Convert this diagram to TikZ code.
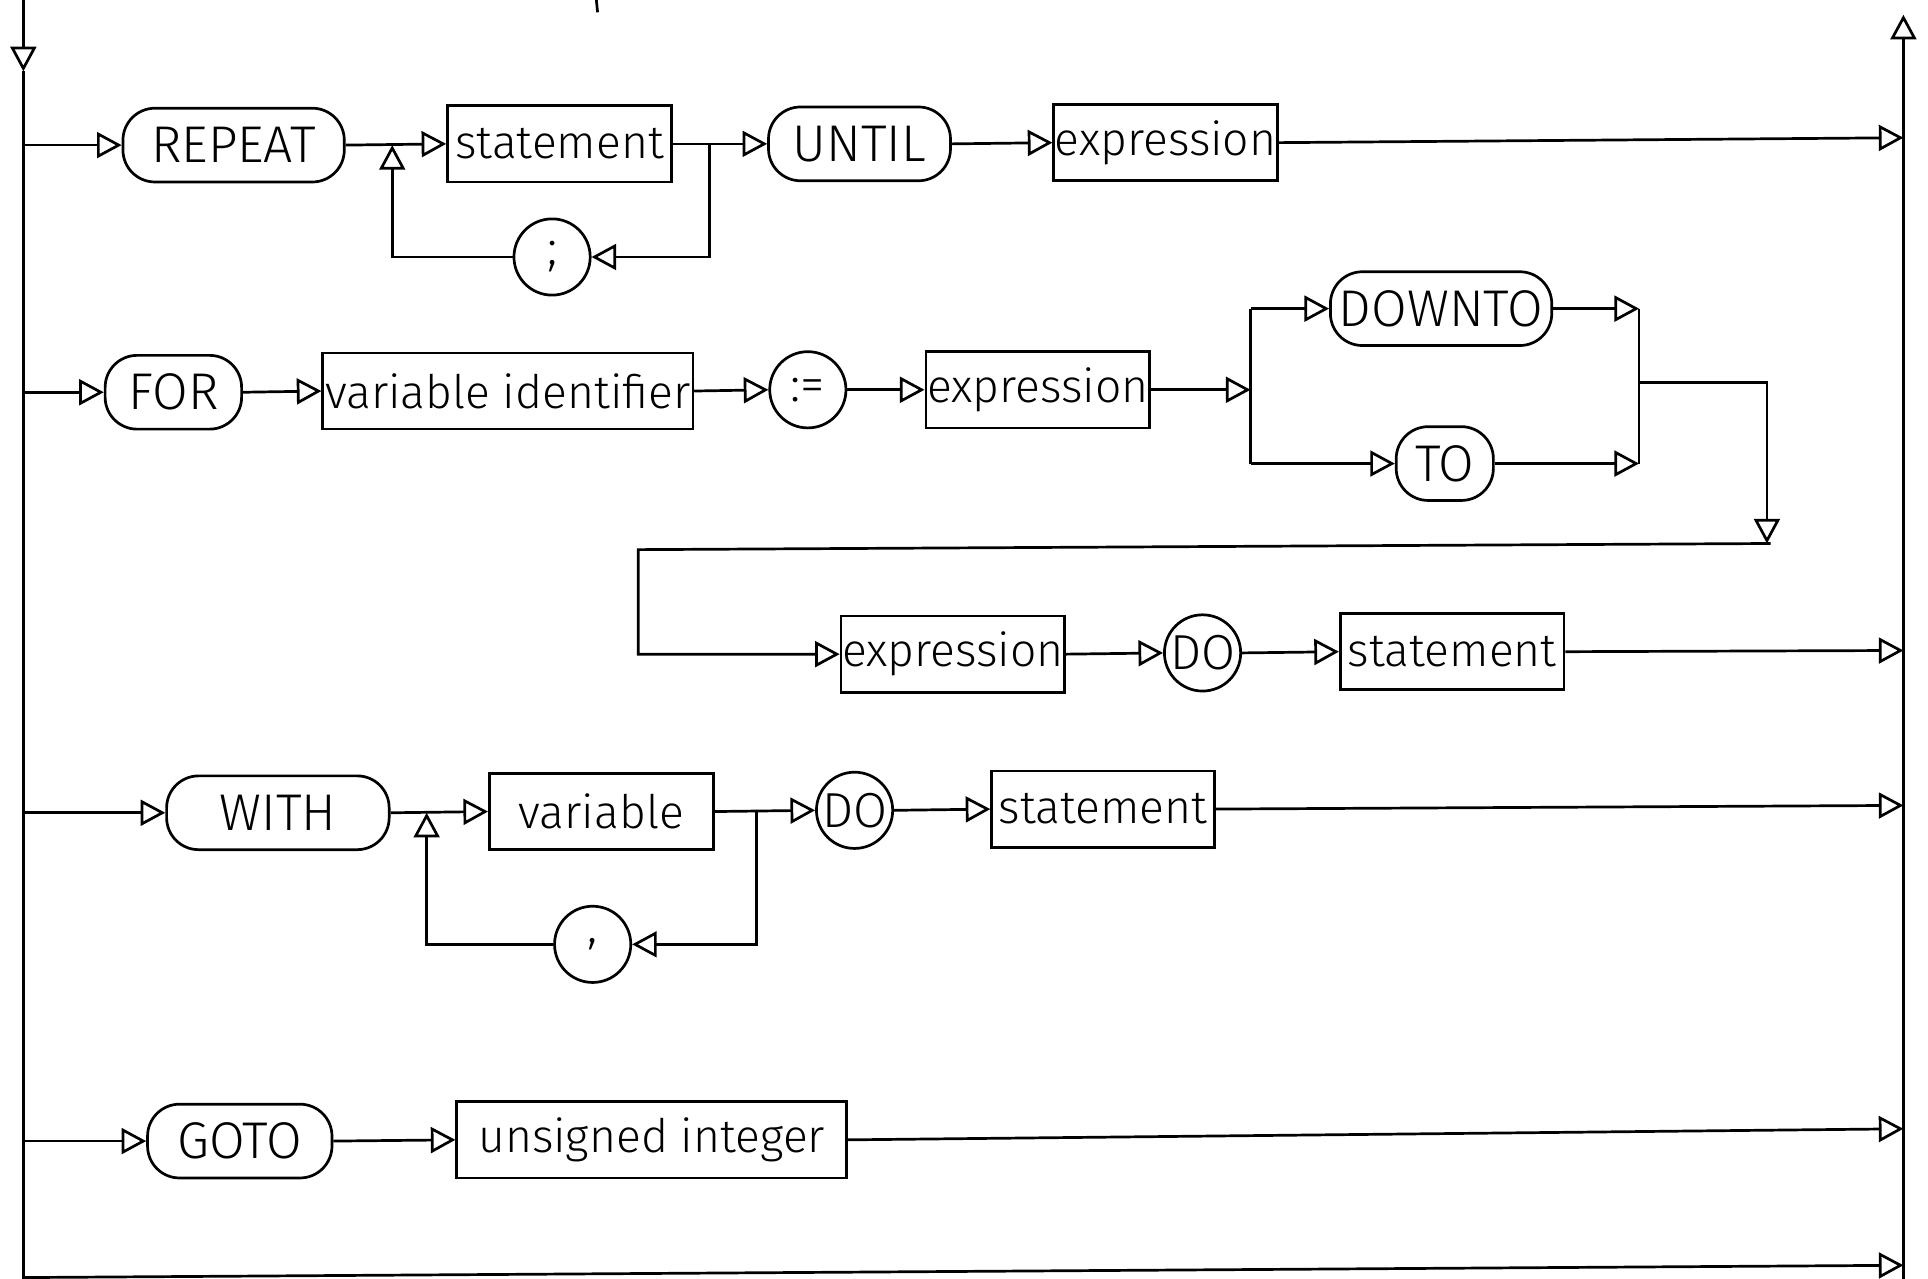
\documentclass[tikz,border=0pt]{standalone}
\usepackage{fontspec}
\setmainfont{Fira Sans Light}
\usetikzlibrary{arrows.meta}

\begin{document}
\begin{tikzpicture}[x=0.5pt,y=-0.5pt,
  line width=1.1pt,
  arr/.style={-{Triangle[open,length=10pt,width=10.5pt,line width=1.1pt]}},
  kw/.style={draw,rounded corners=13pt,inner sep=0pt,
    minimum width=#1*0.5pt,minimum height=30pt,font=\fontsize{21}{24}\selectfont},
  nt/.style={draw,inner sep=0pt,
    minimum width=#1*0.5pt,minimum height=31pt,font=\fontsize{18.8}{22}\selectfont},
  sym/.style={draw,circle,inner sep=0pt,minimum size=31pt,font=\fontsize{20}{22}\selectfont}]

\useasboundingbox (0,0) rectangle (1568,1040);

% side rails
\coordinate (ltop) at (19,0);
\coordinate (ldn) at (19,58);
\coordinate (lbot) at (19,1040);
\coordinate (rtop) at (1548,12);
\coordinate (rbot) at (1548,1040);
\draw[arr] (ltop) -- (ldn);
\draw (ldn) -- (lbot);
\draw[arr] (rbot) -- (rtop);

% stray pen stroke at the top edge
\draw (485,0) -- (486,10);

% ---- REPEAT statement ; statement UNTIL expression
\node[kw=180] (repeat) at (190,118) {REPEAT};
\node[nt=182] (stmta) at (455,117) {statement};
\node[sym] (semi) at (449,209) {;};
\node[kw=148] (until) at (699,117) {UNTIL};
\node[nt=182] (expra) at (948,116) {expression};
\coordinate (ra) at (19,118);
\coordinate (loopa) at (319,118);
\coordinate (loopb) at (577,117);
\coordinate (outa) at (1548,112);
\draw[arr] (ra) -- (repeat.west);
\draw[arr] (repeat.east) -- (stmta.west);
\draw[arr] (semi.west) -| (loopa);
\draw[arr] (loopb) |- (semi.east);
\draw[arr] (stmta.east) -- (until.west);
\draw[arr] (until.east) -- (expra.west);
\draw[arr] (expra.east) -- (outa);

% ---- FOR variable identifier := expression (DOWNTO|TO) expression DO statement
\node[kw=111] (for) at (141,319) {FOR};
\node[nt=301] (varid) at (413,318) {variable identifier};
\node[sym] (assign) at (657,317) {:=};
\node[nt=182] (exprb) at (844,317) {expression};
\node[kw=180] (downto) at (1172,251) {DOWNTO};
\node[kw=79] (to) at (1175,377) {TO};
\node[nt=182] (exprc) at (775,532) {expression};
\node[sym] (doa) at (978,531) {DO};
\node[nt=182] (stmtb) at (1181,530) {statement};
\coordinate (rb) at (19,319);
\coordinate (split) at (1017,317);
\coordinate (splt) at (1017,251);
\coordinate (splb) at (1017,377);
\coordinate (jnt) at (1333,251);
\coordinate (jnb) at (1333,377);
\coordinate (jn) at (1333,311);
\coordinate (corner) at (1437,311);
\coordinate (drop) at (1437,442);
\coordinate (back) at (1440,442);
\coordinate (turn) at (519,447);
\coordinate (outb) at (1548,529);
\draw[arr] (rb) -- (for.west);
\draw[arr] (for.east) -- (varid.west);
\draw[arr] (varid.east) -- (assign.west);
\draw[arr] (assign.east) -- (exprb.west);
\draw[arr] (exprb.east) -- (split);
\draw (splt) -- (splb);
\draw[arr] (splt) -- (downto.west);
\draw[arr] (splb) -- (to.west);
\draw[arr] (downto.east) -- (jnt);
\draw[arr] (to.east) -- (jnb);
\draw (jnt) -- (jnb);
\draw[arr] (jn) -- (corner) -- (drop);
\draw[arr] (back) -- (turn) |- (exprc.west);
\draw[arr] (exprc.east) -- (doa.west);
\draw[arr] (doa.east) -- (stmtb.west);
\draw[arr] (stmtb.east) -- (outb);

% ---- WITH variable , variable DO statement
\node[kw=181] (with) at (226,661) {WITH};
\node[nt=182] (var) at (489,660) {variable};
\node[sym] (comma) at (482,768) {,};
\node[sym] (dob) at (695,659) {DO};
\node[nt=181] (stmtc) at (897,658) {statement};
\coordinate (rc) at (19,661);
\coordinate (loopc) at (347,661);
\coordinate (loopd) at (615,660);
\coordinate (outc) at (1548,655);
\draw[arr] (rc) -- (with.west);
\draw[arr] (with.east) -- (var.west);
\draw[arr] (comma.west) -| (loopc);
\draw[arr] (loopd) |- (comma.east);
\draw[arr] (var.east) -- (dob.west);
\draw[arr] (dob.east) -- (stmtc.west);
\draw[arr] (stmtc.east) -- (outc);

% ---- GOTO unsigned integer
\node[kw=150] (goto) at (195,928) {GOTO};
\node[nt=317] (uint) at (530,927) {unsigned integer};
\coordinate (rd) at (19,928);
\coordinate (outd) at (1548,918);
\draw[arr] (rd) -- (goto.west);
\draw[arr] (goto.east) -- (uint.west);
\draw[arr] (uint.east) -- (outd);

% ---- empty statement
\coordinate (re) at (19,1039);
\coordinate (oute) at (1548,1029);
\draw[arr] (re) -- (oute);
\end{tikzpicture}
\end{document}
